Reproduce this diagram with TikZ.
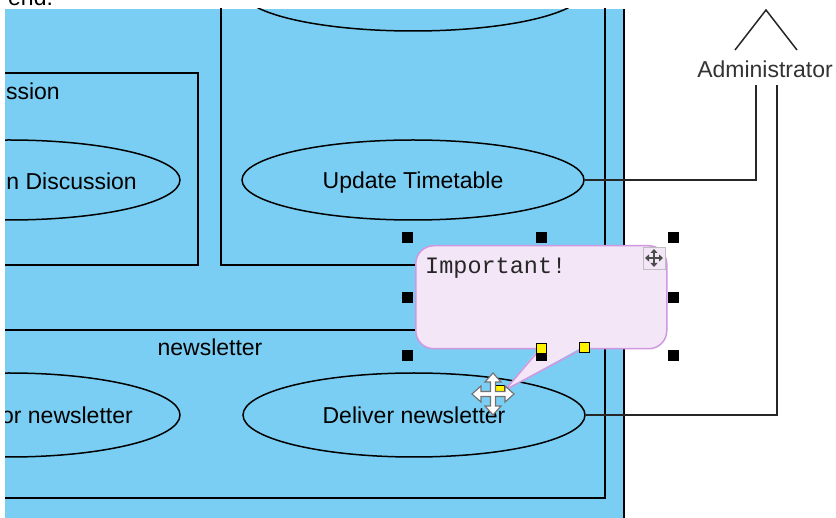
\documentclass[tikz,border=0pt]{standalone}
\usepackage{fontspec}
\setmainfont{Liberation Sans}
\newfontfamily\notefont{Liberation Mono}
\usetikzlibrary{shapes.geometric,arrows.meta}
\definecolor{sysblue}{RGB}{122,206,243}
\definecolor{notefill}{RGB}{243,230,247}
\definecolor{noteline}{RGB}{208,152,224}

\begin{document}
\begin{tikzpicture}[x=1pt,y=-1pt,
    every node/.style={font=\fontsize{23}{27}\selectfont,inner sep=0pt},
    usecase/.style={ellipse,draw,line width=1.5pt,minimum width=342pt,minimum height=80pt,text depth=0pt},
    package/.style={draw,line width=1.8pt},
    link/.style={draw=black!85,line width=1.5pt},
    handle/.style={draw=black,fill=black,minimum size=10pt},
    yhandle/.style={handle,fill=yellow,line width=1pt}]
    \useasboundingbox (0,0) rectangle (836,518);
    \clip (0,0) rectangle (836,518);
    \node[anchor=base west] (endtxt) at (8,6) {end.};
    \begin{scope}
      \clip (5,9) rectangle (625,518);
      \fill[sysblue] (5,9) rectangle (625,518);
      \draw[package] (221,-20) rectangle (605,265);
      \draw[package] (-20,73) rectangle (198,265);
      \draw[package] (-20,330) rectangle (605,498);
      \node[anchor=east] (discpkg) at (60,91) {Discussion};
      \node (newspkg) at (210,347) {newsletter};
      \node[usecase] (top) at (413,-9) {};
      \node[usecase] (upd) at (413,180) {Update Timetable};
      \node[usecase] (join) at (9,180) {};
      \node[anchor=east] (jointxt) at (137,181) {Join Discussion};
      \node[usecase,minimum height=84pt] (deliv) at (414,415) {Deliver newsletter};
      \node[usecase,minimum height=84pt] (subs) at (9,415) {};
      \node[anchor=east] (substxt) at (133,415) {Subscribe for newsletter};
    \end{scope}
    \draw[line width=1.5pt] (624,9) -- (624,518);
    \node[text=black!80] (admin) at (765,69) {Administrator};
    \coordinate (hip) at (766,10);
    \draw[link] (735,50) -- (hip) -- (797,50);
    \coordinate (adminL) at (756,85);
    \coordinate (adminR) at (777,85);
    \draw[link] (upd.east) -| (adminL);
    \draw[link] (deliv.east) -| (adminR);
    \node[draw=noteline,fill=notefill,line width=1.5pt,rounded corners=18pt,
      minimum width=251pt,minimum height=103pt,anchor=north west] (note) at (415,245) {};
    \fill[notefill] (541,346) -- (505,390) -- (584,346) -- cycle;
    \draw[noteline,line width=1.5pt] (541,348) -- (505,390) -- (584,348);
    \node[anchor=west,font=\notefont\fontsize{23.5}{27}\selectfont,text=black!85] (imp) at (425,268) {Important!};
    \node[draw=black!25,fill=notefill,minimum size=22pt] (mv) at (654,258) {};
    \draw[black!70,line width=1.8pt,{Triangle[length=4pt,width=7pt]}-{Triangle[length=4pt,width=7pt]}]
      ([yshift=9pt]mv.center) -- ([yshift=-9pt]mv.center);
    \draw[black!70,line width=1.8pt,{Triangle[length=4pt,width=7pt]}-{Triangle[length=4pt,width=7pt]}]
      ([xshift=-9pt]mv.center) -- ([xshift=9pt]mv.center);
    \foreach \hx/\hy [count=\i] in {407/237,541/237,673/237,407/297,673/297,407/355,541/355,673/355}
      \node[handle] (h\i) at (\hx,\hy) {};
    \node[yhandle] (y1) at (541,349) {};
    \node[yhandle] (y2) at (584,348) {};
    \node[yhandle] (y3) at (499,391) {};
    \draw[fill=white,draw=black!55,line width=1.2pt,shift={(493,394)}]
      (0,-21) -- (8,-12) -- (2.5,-12) -- (2.5,-2.5) -- (12,-2.5) -- (12,-8) -- (21,0)
      -- (12,8) -- (12,2.5) -- (2.5,2.5) -- (2.5,12) -- (8,12) -- (0,21) -- (-8,12)
      -- (-2.5,12) -- (-2.5,2.5) -- (-12,2.5) -- (-12,8) -- (-21,0) -- (-12,-8)
      -- (-12,-2.5) -- (-2.5,-2.5) -- (-2.5,-12) -- (-8,-12) -- cycle;
\end{tikzpicture}
\end{document}
